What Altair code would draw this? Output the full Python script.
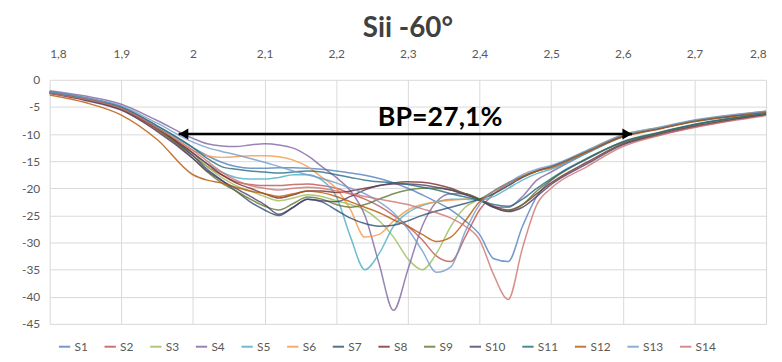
import altair as alt
import pandas as pd

# Frequency grid (GHz)
freq = [1.80, 1.85, 1.90, 1.95, 2.00, 2.02, 2.04, 2.06, 2.08, 2.10, 2.12, 2.14, 2.16, 2.18,
        2.20, 2.22, 2.24, 2.26, 2.28, 2.30, 2.32, 2.34, 2.36, 2.38, 2.40, 2.42, 2.44, 2.46,
        2.48, 2.50, 2.55, 2.60, 2.65, 2.70, 2.75, 2.80]

S1 = [-2.2, -3.4, -5.0, -8.5, -12.5, -14.0, -15.2, -16.0, -16.3, -16.3, -16.2, -16.2, -16.3, -16.5,
      -16.8, -17.2, -17.6, -18.2, -19.0, -20.0, -21.2, -22.5, -24.0, -26.0, -28.5, -33.0, -33.5, -27.0,
      -21.5, -18.5, -14.5, -11.5, -9.8, -8.3, -7.2, -6.3]
S2 = [-2.5, -3.7, -5.5, -9.3, -14.0, -16.0, -17.5, -18.8, -19.3, -19.5, -19.5, -19.3, -19.2, -19.5,
      -20.0, -21.0, -22.0, -23.3, -25.0, -27.0, -29.5, -32.5, -33.5, -29.0, -24.0, -21.0, -19.2, -17.8,
      -16.8, -16.0, -13.2, -10.4, -9.0, -7.6, -6.7, -5.9]
S3 = [-2.3, -3.5, -5.2, -8.8, -13.5, -16.0, -18.0, -19.5, -20.5, -21.5, -22.3, -21.8, -21.2, -21.5,
      -22.3, -23.0, -24.0, -26.0, -29.0, -33.0, -35.0, -32.0, -27.0, -23.5, -22.0, -20.5, -19.0, -17.8,
      -16.8, -16.0, -13.0, -10.2, -8.8, -7.5, -6.6, -5.8]
S4 = [-2.0, -3.0, -4.5, -7.5, -10.8, -11.8, -12.2, -12.3, -12.0, -11.8, -12.0, -12.6, -14.0, -16.0,
      -18.0, -20.5, -25.0, -34.0, -42.5, -35.0, -27.0, -22.5, -21.0, -21.0, -22.0, -23.5, -23.5, -21.5,
      -18.5, -17.0, -13.5, -10.5, -9.0, -7.6, -6.7, -5.9]
S5 = [-2.4, -3.5, -5.2, -8.8, -13.5, -15.5, -17.0, -18.0, -18.3, -18.3, -18.0, -17.5, -17.5, -18.5,
      -21.5, -29.0, -35.0, -32.0, -27.0, -24.5, -23.2, -22.5, -22.0, -22.0, -22.2, -21.5, -20.0, -18.5,
      -17.3, -16.5, -13.5, -10.5, -9.0, -7.7, -6.8, -6.0]
S6 = [-2.3, -3.5, -5.3, -9.0, -13.0, -14.0, -14.3, -14.2, -14.0, -14.0, -14.2, -14.8, -16.0, -18.0,
      -20.0, -24.0, -29.0, -28.5, -26.0, -24.0, -23.0, -22.5, -22.2, -22.0, -22.0, -21.0, -19.5, -18.0,
      -16.8, -16.0, -13.2, -10.3, -8.9, -7.5, -6.6, -5.8]
S7 = [-2.4, -3.6, -5.4, -9.0, -14.0, -16.5, -18.5, -20.5, -22.5, -24.0, -25.0, -23.5, -22.0, -22.5,
      -24.0, -25.5, -26.5, -27.0, -26.8, -26.0, -25.0, -24.2, -23.5, -22.8, -22.0, -21.0, -19.5, -18.0,
      -16.8, -16.0, -13.2, -10.4, -9.0, -7.6, -6.7, -5.9]
S8 = [-2.4, -3.6, -5.3, -9.0, -13.5, -15.5, -17.5, -19.0, -20.0, -21.0, -21.8, -21.2, -20.5, -20.5,
      -20.8, -20.5, -20.0, -19.5, -19.0, -18.8, -18.9, -19.3, -20.0, -21.0, -22.0, -23.3, -24.0, -23.0,
      -21.0, -19.0, -15.2, -11.8, -10.0, -8.5, -7.4, -6.4]
S9 = [-2.3, -3.5, -5.3, -9.0, -14.5, -17.0, -19.0, -20.5, -22.0, -23.3, -24.0, -22.8, -21.6, -22.0,
      -23.0, -23.5, -23.0, -22.0, -21.0, -20.3, -20.0, -20.0, -20.3, -21.0, -22.0, -23.5, -24.2, -23.0,
      -20.5, -18.5, -14.5, -11.5, -9.8, -8.3, -7.2, -6.3]
S10 = [-2.5, -3.8, -5.6, -9.5, -14.5, -16.8, -18.6, -20.0, -21.5, -23.0, -24.8, -23.5, -22.0, -22.3,
       -22.5, -21.5, -20.3, -19.5, -19.2, -19.2, -19.4, -19.8, -20.3, -21.2, -22.2, -23.5, -24.3, -23.5,
       -21.5, -19.3, -15.5, -12.0, -10.2, -8.7, -7.5, -6.5]
S11 = [-2.2, -3.3, -5.0, -8.5, -12.5, -14.5, -16.0, -16.5, -16.8, -17.0, -17.2, -17.0, -16.8, -17.0,
       -17.5, -18.0, -18.5, -18.8, -19.0, -19.3, -19.8, -20.3, -21.0, -21.6, -22.2, -23.0, -23.3, -22.0,
       -20.0, -18.2, -14.6, -11.4, -9.7, -8.2, -7.1, -6.2]
S12 = [-2.8, -4.2, -6.5, -11.0, -17.5, -18.5, -19.0, -19.8, -20.5, -21.0, -21.5, -21.0, -20.5, -20.8,
       -21.5, -22.5, -23.5, -24.5, -25.8, -27.0, -28.5, -29.8, -29.0, -26.0, -22.5, -20.5, -19.0, -17.8,
       -16.8, -16.2, -13.3, -10.5, -9.1, -7.7, -6.8, -6.0]
S13 = [-2.2, -3.3, -4.8, -8.0, -11.5, -12.5, -13.2, -13.8, -14.5, -15.2, -16.0, -16.8, -17.5, -18.2,
       -19.0, -20.0, -21.0, -22.5, -24.5, -27.5, -31.5, -35.5, -34.5, -28.0, -23.0, -20.5, -19.0, -17.5,
       -16.5, -15.8, -13.0, -10.1, -8.8, -7.4, -6.5, -5.8]
S14 = [-2.5, -3.6, -5.3, -8.8, -13.0, -15.0, -17.0, -18.5, -19.5, -20.0, -20.3, -20.0, -19.8, -20.0,
       -20.5, -21.0, -21.5, -22.0, -22.5, -23.0, -23.8, -24.5, -25.5, -27.0, -29.5, -36.0, -40.5, -31.0,
       -23.0, -20.0, -16.0, -12.3, -10.3, -8.8, -7.6, -6.6]

series_names = ["S1", "S2", "S3", "S4", "S5", "S6", "S7", "S8", "S9", "S10", "S11", "S12", "S13", "S14"]
series_values = [S1, S2, S3, S4, S5, S6, S7, S8, S9, S10, S11, S12, S13, S14]
series_colors = ["#4F81BD", "#C0504D", "#9BBB59", "#8064A2", "#4BACC6", "#F79646", "#2C4D75",
                 "#772C2A", "#5F7530", "#4D3B62", "#276A7D", "#B65708", "#729ACA", "#CD7371"]

x_ticks = [1.8, 1.9, 2.0, 2.1, 2.2, 2.3, 2.4, 2.5, 2.6, 2.7, 2.8]
y_ticks = [0, -5, -10, -15, -20, -25, -30, -35, -40, -45]

# Bandwidth annotation
bp_start = [1.98]
bp_end = [2.613]
bp_level = [-10]
bp_label = ["BP=27,1%"]
bp_label_x = [2.345]

rows = []
for name, vals in zip(series_names, series_values):
    for f, v in zip(freq, vals):
        rows.append({"f": f, "dB": v, "series": name})
df = pd.DataFrame(rows)

ann = pd.DataFrame({"x1": bp_start, "x2": bp_end, "y": bp_level,
                    "label": bp_label, "xt": bp_label_x})

FONT = "Lato"

x_enc = alt.X("f:Q",
              scale=alt.Scale(domain=[1.8, 2.8], nice=False, zero=False),
              axis=alt.Axis(orient="top", values=x_ticks, tickCount=30, title=None, ticks=False,
                            domain=False,
                            labelExpr="replace(toString(datum.value), '.', ',')",
                            labelOverlap=False, labelPadding=19, labelFontSize=12,
                            labelColor="#595959", labelFont=FONT, gridColor="#d9d9d9",
                            gridWidth=1))
y_enc = alt.Y("dB:Q",
              scale=alt.Scale(domain=[-45, 0], nice=False, zero=False),
              axis=alt.Axis(values=y_ticks, tickCount=30, title=None, ticks=False, domain=False,
                            labelExpr="toString(datum.value)", labelOverlap=False,
                            labelPadding=10, labelFontSize=12, labelColor="#595959",
                            labelFont=FONT, gridColor="#d9d9d9", gridWidth=1))

lines = alt.Chart(df).mark_line(interpolate="monotone", strokeWidth=1.5, opacity=0.8).encode(
    x=x_enc,
    y=y_enc,
    color=alt.Color("series:N",
                    scale=alt.Scale(domain=series_names, range=series_colors),
                    legend=alt.Legend(orient="none", legendX=8, legendY=262, direction="horizontal",
                                      columns=14, title=None, symbolType="stroke",
                                      symbolStrokeWidth=2, symbolSize=130, labelFontSize=12,
                                      labelColor="#595959", labelFont=FONT, columnPadding=12,
                                      labelOffset=3)),
)

rule = alt.Chart(ann).mark_rule(color="black", strokeWidth=2.5).encode(
    x=alt.X("x1:Q", title=None), x2="x2:Q", y=alt.Y("y:Q", title=None))
head_l = alt.Chart(ann).mark_point(shape="triangle-left", filled=True, size=120, color="black",
                                   opacity=1, xOffset=5).encode(
    x=alt.X("x1:Q", title=None), y=alt.Y("y:Q", title=None))
head_r = alt.Chart(ann).mark_point(shape="triangle-right", filled=True, size=120, color="black",
                                   opacity=1, xOffset=-5).encode(
    x=alt.X("x2:Q", title=None), y=alt.Y("y:Q", title=None))
label = alt.Chart(ann).mark_text(fontSize=27, fontWeight="bold", font=FONT, color="black",
                                 baseline="bottom", dy=-2).encode(
    x=alt.X("xt:Q", title=None), y=alt.Y("y:Q", title=None), text="label:N")

chart = alt.layer(lines, rule, head_l, head_r, label).properties(
    width=722, height=246,
    title=alt.Title("Sii -60°", fontSize=28, font=FONT, fontWeight="bold", color="#404040",
                    anchor="middle", offset=5),
    autosize=alt.AutoSizeParams(type="none"),
    padding={"left": 42, "top": 71, "right": 8, "bottom": 32},
).configure_view(stroke=None)

chart.save("out.html", embed_options={"renderer": "svg", "actions": False})
